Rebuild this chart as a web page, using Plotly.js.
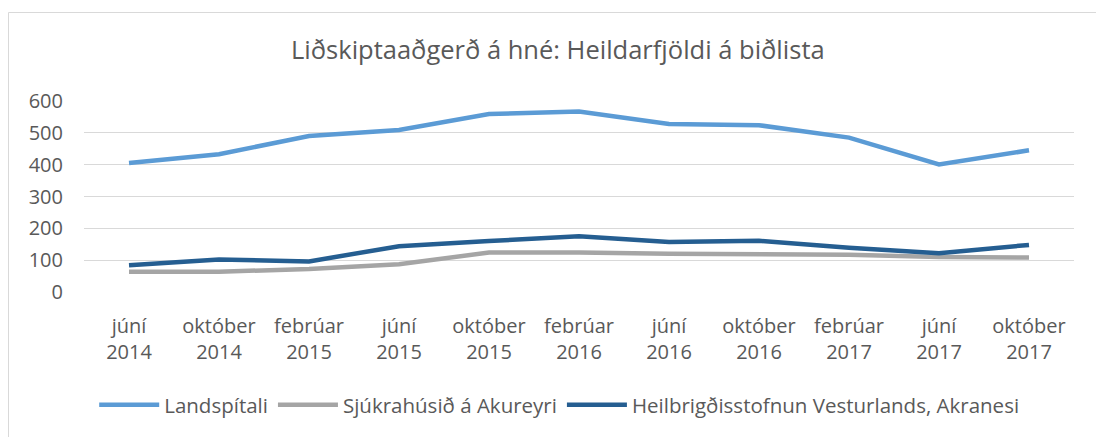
<!DOCTYPE html>
<html>
<head>
<meta charset="utf-8">
<script src="https://cdn.plot.ly/plotly-3.0.1.min.js"></script>
<style>html,body{margin:0;padding:0;background:#fff;}#chart{width:1096px;height:437px;}</style>
</head>
<body>
<div id="chart"></div>
<script>
const categories = ["júní<br>2014","október<br>2014","febrúar<br>2015","júní<br>2015","október<br>2015","febrúar<br>2016","júní<br>2016","október<br>2016","febrúar<br>2017","júní<br>2017","október<br>2017"];
const landspitali = [405, 433, 490, 509, 559, 567, 528, 524, 485, 401, 445];
const akureyri = [64, 64, 72, 87, 124, 124, 120, 120, 117, 110, 108];
const akranes = [84, 102, 96, 144, 160, 175, 157, 161, 139, 122, 148];
const seriesNames = ["Landspítali", "Sjúkrahúsið á Akureyri", "Heilbrigðisstofnun Vesturlands, Akranesi"];
const yTicks = [0, 100, 200, 300, 400, 500, 600];

const font = "Open Sans, Lato, sans-serif";
const grey = "#595959";
const mk = (y, name, color) => ({
  x: categories, y: y, name: name, type: "scatter", mode: "lines",
  line: {color: color, width: 4.5}
});
const data = [
  mk(landspitali, seriesNames[0], "#5B9BD5"),
  mk(akureyri, seriesNames[1], "#A5A5A5"),
  mk(akranes, seriesNames[2], "#255E91")
];
const L = 84, R = 22, T = 101, B = 145, W = 1096, H = 437;
const pw = W - L - R, ph = H - T - B;
const px = v => (v - L) / pw, py = v => (H - B - v) / ph;
const layout = {
  width: W, height: H,
  margin: {l: L, r: R, t: T, b: B},
  paper_bgcolor: "#fff", plot_bgcolor: "#fff",
  font: {family: font, color: grey, size: 20},
  title: {text: "Liðskiptaaðgerð á hné: Heildarfjöldi á biðlista", font: {size: 25.5, color: grey, family: font},
          x: 0.509, xanchor: "center", y: 1 - 50/437, yanchor: "middle", xref: "container", yref: "container"},
  xaxis: {type: "category", range: [-0.5, categories.length - 0.5], showgrid: false, zeroline: false, showline: false, ticks: "",
          tickfont: {size: 20, color: grey}, ticklabelstandoff: 20, fixedrange: true},
  yaxis: {range: [0, 600], tickvals: yTicks, showgrid: true, gridcolor: "#D9D9D9", gridwidth: 1,
          zeroline: false, showline: false, ticks: "", tickfont: {size: 20, color: grey},
          ticklabelstandoff: 20, fixedrange: true},
  showlegend: true,
  legend: {orientation: "h", x: 0.48, xanchor: "center", y: py(405), yanchor: "middle",
           font: {size: 20.5, color: grey}, itemwidth: 60, tracegroupgap: 0},
  shapes: [{type: "rect", xref: "paper", yref: "paper", x0: px(8.5), x1: px(1110), y0: py(450), y1: py(12.5),
            line: {color: "#D9D9D9", width: 1}, fillcolor: "rgba(0,0,0,0)", layer: "below"}]
};
Plotly.newPlot("chart", data, layout, {displayModeBar: false, staticPlot: true});
</script>
</body>
</html>
